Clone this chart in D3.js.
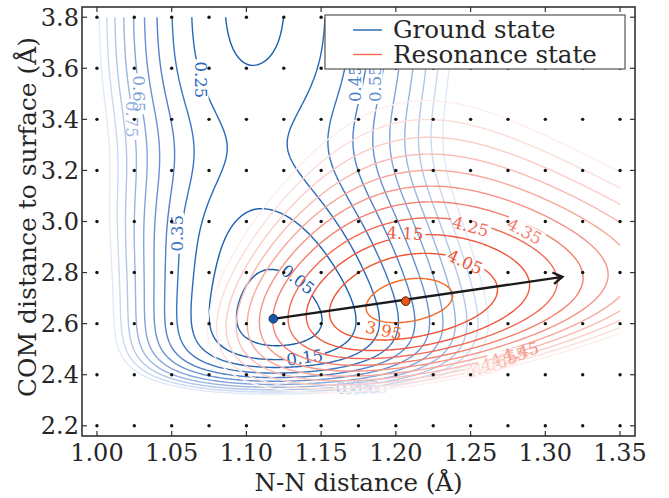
<!DOCTYPE html>
<html><head><meta charset="utf-8">
<script src="https://cdn.jsdelivr.net/npm/d3@7"></script>
<style>
body{margin:0;background:#fff}
svg{display:block}
text{font-family:"DejaVu Serif",serif}
</style>
</head><body>
<svg id="chart" width="669" height="498"></svg>
<script>
// ---------------- data ----------------
const xTicks = [1.00, 1.05, 1.10, 1.15, 1.20, 1.25, 1.30, 1.35];
const yTicks = [2.2, 2.4, 2.6, 2.8, 3.0, 3.2, 3.4, 3.6, 3.8];
const gridX = [1.000, 1.025, 1.050, 1.075, 1.100, 1.125, 1.150, 1.175, 1.200, 1.225, 1.250, 1.275, 1.300, 1.325, 1.350];
const gridZ = [2.2, 2.4, 2.6, 2.8, 3.0, 3.2, 3.4, 3.6, 3.8];
const groundLevels = [0.05, 0.15, 0.25, 0.35, 0.45, 0.55, 0.65, 0.75, 0.85, 0.95, 1.05];
const resonanceLevels = [3.95, 4.05, 4.15, 4.25, 4.35, 4.45, 4.55, 4.65, 4.75, 4.85, 4.95];
const groundColors = ["#1a5ca8","#1c60ae","#2a69b9","#3c74c1","#5283c8","#6993d0","#82a4d8","#9ab5e0","#b2c7e8","#cad9f0","#e1e9f7"];
const resonanceColors = ["#f26a24","#ee5530","#ee573e","#f16b58","#f3806f","#f59486","#f7a89c","#f9bbb2","#fbcdc7","#fcdeda","#feeeec"];
const groundMin = [1.118, 2.619];
const resonanceMin = [1.2066, 2.688];
const arrowTip = [1.3115, 2.783];
const seriesNames = ["Ground state", "Resonance state"];
const legendColors = ["#2163ad", "#f46a4c"];
// surface parameters
const groundBond = [9.9, 2.6, 52];                 // Morse depth, Morse range (compressed side), stiffness (stretched side)
const groundBondLength = [1.104, 0.016, 2.55, 0.5]; // gas-phase r0, shift near surface, centre, width
const groundSurface = [0.125, 4.6, 2.62];          // well depth, range, equilibrium height
const groundBarrier = [0.112, 3.28, 0.28];         // barrier height, position, width
const resonanceBond = [1.208, 44.4, -104, -31];    // r0, quadratic, cubic, quartic
const resonanceSurface = [3.913, 1.97, 1.65, 2.685, 0.8]; // minimum, depth, range, Zc, tilt
// contour labels: level, x, Z, rotation
const groundLabels = [
  [0.05, 1.1345, 2.773, 38], [0.15, 1.139, 2.468, -8], [0.25, 1.0697, 3.555, 90],
  [0.35, 1.0534, 2.954, -90], [0.45, 1.1729, 3.54, -90], [0.55, 1.1862, 3.54, -90],
  [0.65, 1.0283, 3.50, 90], [0.75, 1.0235, 3.40, 90],
  [0.85, 1.172, 2.352, -3], [0.95, 1.177, 2.350, -3], [1.05, 1.182, 2.348, -3]
];
const resonanceLabels = [
  [3.95, 1.1919, 2.574, 12], [4.05, 1.2464, 2.842, 25], [4.15, 1.206, 2.954, 3],
  [4.25, 1.250, 2.981, 15], [4.35, 1.2862, 2.962, 28],
  [4.45, 1.2835, 2.490, -14], [4.55, 1.2755, 2.470, -14], [4.65, 1.269, 2.452, -14],
  [4.75, 1.263, 2.438, -14], [4.85, 1.259, 2.426, -14], [4.95, 1.256, 2.416, -14]
];

// ---------------- model surfaces ----------------
function groundPES(r, z) {
  const r0 = groundBondLength[0] + groundBondLength[1] * Math.exp(-(((z - groundBondLength[2]) / groundBondLength[3]) ** 2));
  const d = r - r0;
  const vr = d < 0 ? groundBond[0] * (1 - Math.exp(-groundBond[1] * d)) ** 2 : groundBond[2] * d * d;
  const ez = Math.exp(-groundSurface[1] * (z - groundSurface[2]));
  const vz = groundSurface[0] * (1 - ez) ** 2 + groundBarrier[0] * Math.exp(-(((z - groundBarrier[1]) / groundBarrier[2]) ** 2));
  return vr + vz;
}
function resonancePES(r, z) {
  const d = r - resonanceBond[0];
  const vr = resonanceBond[1] * d * d + resonanceBond[2] * d ** 3 + resonanceBond[3] * d ** 4;
  const zc = resonanceSurface[3] + resonanceSurface[4] * d;
  const e = Math.exp(-resonanceSurface[2] * (z - zc));
  return resonanceSurface[0] + vr + resonanceSurface[1] * (1 - e) ** 2;
}

// ---------------- layout ----------------
const svg = d3.select("#chart");
const W = 669, H = 498;
const m = {left: 82, right: 34, top: 7, bottom: 62};
const x = d3.scaleLinear().domain([0.99, 1.36]).range([m.left, W - m.right]);
const y = d3.scaleLinear().domain([2.16, 3.84]).range([H - m.bottom, m.top]);
const defs = svg.append("defs");
defs.append("clipPath").attr("id", "dataClip").append("rect")
  .attr("x", x(1.0)).attr("y", y(3.8)).attr("width", x(1.35) - x(1.0)).attr("height", y(2.2) - y(3.8));

// grid for contouring
const gx0 = 0.985, gdx = 0.001, gnx = 381;
const gz0 = 2.15, gdz = 0.004, gnz = 426;
function sample(fn) {
  const v = new Float64Array(gnx * gnz);
  for (let j = 0; j < gnz; j++) for (let i = 0; i < gnx; i++) v[j * gnx + i] = fn(gx0 + i * gdx, gz0 + j * gdz);
  return v;
}
const proj = d3.geoPath(d3.geoTransform({
  point(u, v) { this.stream.point(x(gx0 + (u - 0.5) * gdx), y(gz0 + (v - 0.5) * gdz)); }
}));
const fs = 16.5;
function drawSet(fn, levels, colors, labels, id, decimals) {
  const values = sample(fn);
  const cs = d3.contours().size([gnx, gnz]).thresholds(levels)(values);
  const g = svg.append("g").attr("clip-path", "url(#dataClip)");
  cs.forEach((c, k) => {
    const lv = levels[k];
    const labs = labels.filter(l => Math.abs(l[0] - lv) < 1e-6);
    let maskId = null;
    if (labs.length) {
      maskId = id + "m" + k;
      const mk = defs.append("mask").attr("id", maskId).attr("maskUnits", "userSpaceOnUse")
        .attr("x", 0).attr("y", 0).attr("width", W).attr("height", H);
      mk.append("rect").attr("width", W).attr("height", H).attr("fill", "#fff");
      labs.forEach(l => {
        const w = lv.toFixed(decimals).length * fs * 0.56 + 4;
        mk.append("rect").attr("x", -w / 2).attr("y", -fs * 0.45).attr("width", w).attr("height", fs * 0.9)
          .attr("fill", "#000").attr("transform", `translate(${x(l[1])},${y(l[2])}) rotate(${l[3]})`);
      });
    }
    g.append("path").attr("d", proj(c)).attr("fill", "none").attr("stroke", colors[k])
      .attr("stroke-width", 1.4).attr("mask", maskId ? `url(#${maskId})` : null);
  });
  const lg = svg.append("g");
  labels.forEach(l => {
    const k = levels.findIndex(v => Math.abs(v - l[0]) < 1e-6);
    lg.append("text").attr("transform", `translate(${x(l[1])},${y(l[2])}) rotate(${l[3]})`)
      .attr("text-anchor", "middle").attr("dy", "0.36em").attr("font-size", fs)
      .attr("fill", colors[k]).text(l[0].toFixed(decimals));
  });
}
drawSet(groundPES, groundLevels, groundColors, groundLabels, "g", 2);
drawSet(resonancePES, resonanceLevels, resonanceColors, resonanceLabels, "r", 2);

// grid points
const pts = [];
gridZ.forEach(z => gridX.forEach(xx => pts.push([xx, z])));
svg.append("g").selectAll("circle").data(pts).join("circle")
  .attr("cx", d => x(d[0])).attr("cy", d => y(d[1])).attr("r", 1.7).attr("fill", "#151515");

// arrow
const ax0 = x(groundMin[0]), ay0 = y(groundMin[1]), ax1 = x(arrowTip[0]), ay1 = y(arrowTip[1]);
const ang = Math.atan2(ay1 - ay0, ax1 - ax0), hl = 11, ha = 0.55;
svg.append("path").attr("d",
  `M${ax0},${ay0}L${ax1},${ay1}` +
  `M${ax1 - hl * Math.cos(ang - ha)},${ay1 - hl * Math.sin(ang - ha)}L${ax1},${ay1}L${ax1 - hl * Math.cos(ang + ha)},${ay1 - hl * Math.sin(ang + ha)}`)
  .attr("fill", "none").attr("stroke", "#1a1a1a").attr("stroke-width", 2.3).attr("stroke-linejoin", "miter");
svg.append("circle").attr("cx", x(groundMin[0])).attr("cy", y(groundMin[1])).attr("r", 4.3)
  .attr("fill", "#1757a6").attr("stroke", "#0c2d55").attr("stroke-width", 1);
svg.append("circle").attr("cx", x(resonanceMin[0])).attr("cy", y(resonanceMin[1])).attr("r", 4.3)
  .attr("fill", "#e8561c").attr("stroke", "#4a1c08").attr("stroke-width", 1);

// axes frame and ticks
const axG = svg.append("g");
const x0p = x.range()[0], x1p = x.range()[1], y0p = y.range()[0], y1p = y.range()[1];
const tl = 5, tc = "#333";
xTicks.forEach(t => {
  axG.append("line").attr("x1", x(t)).attr("x2", x(t)).attr("y1", y0p).attr("y2", y0p - tl).attr("stroke", tc).attr("stroke-width", 1.2);
  axG.append("line").attr("x1", x(t)).attr("x2", x(t)).attr("y1", y1p).attr("y2", y1p + tl).attr("stroke", tc).attr("stroke-width", 1.2);
  axG.append("text").attr("x", x(t)).attr("y", 461).attr("text-anchor", "middle").attr("font-size", 24).attr("fill", "#262626").text(t.toFixed(2));
});
yTicks.forEach(t => {
  axG.append("line").attr("x1", x0p).attr("x2", x0p + tl).attr("y1", y(t)).attr("y2", y(t)).attr("stroke", tc).attr("stroke-width", 1.2);
  axG.append("line").attr("x1", x1p).attr("x2", x1p - tl).attr("y1", y(t)).attr("y2", y(t)).attr("stroke", tc).attr("stroke-width", 1.2);
  axG.append("text").attr("x", 79).attr("y", y(t)).attr("dy", "0.36em").attr("text-anchor", "end").attr("font-size", 24).attr("fill", "#262626").text(t.toFixed(1));
});
axG.append("rect").attr("x", x0p).attr("y", y1p).attr("width", x1p - x0p).attr("height", y0p - y1p)
  .attr("fill", "none").attr("stroke", "#333").attr("stroke-width", 1.6);
axG.append("text").attr("x", (x0p + x1p) / 2).attr("y", 491).attr("text-anchor", "middle").attr("font-size", 24.5).attr("fill", "#262626").text("N-N distance (Å)");
axG.append("text").attr("transform", `translate(36,217) rotate(-90)`).attr("text-anchor", "middle").attr("font-size", 25).attr("fill", "#262626").text("COM distance to surface (Å)");

// legend
const lgd = svg.append("g");
lgd.append("rect").attr("x", 325).attr("y", 15).attr("width", 300).attr("height", 54).attr("fill", "#fff").attr("stroke", "#555").attr("stroke-width", 1.2);
seriesNames.forEach((s, i) => {
  const yy = 30 + i * 24.5;
  lgd.append("line").attr("x1", 353).attr("x2", 382).attr("y1", yy).attr("y2", yy).attr("stroke", legendColors[i]).attr("stroke-width", 1.4);
  lgd.append("text").attr("x", 393).attr("y", yy).attr("dy", "0.33em").attr("font-size", 24.5).attr("fill", "#262626").text(s);
});
</script>
</body></html>
